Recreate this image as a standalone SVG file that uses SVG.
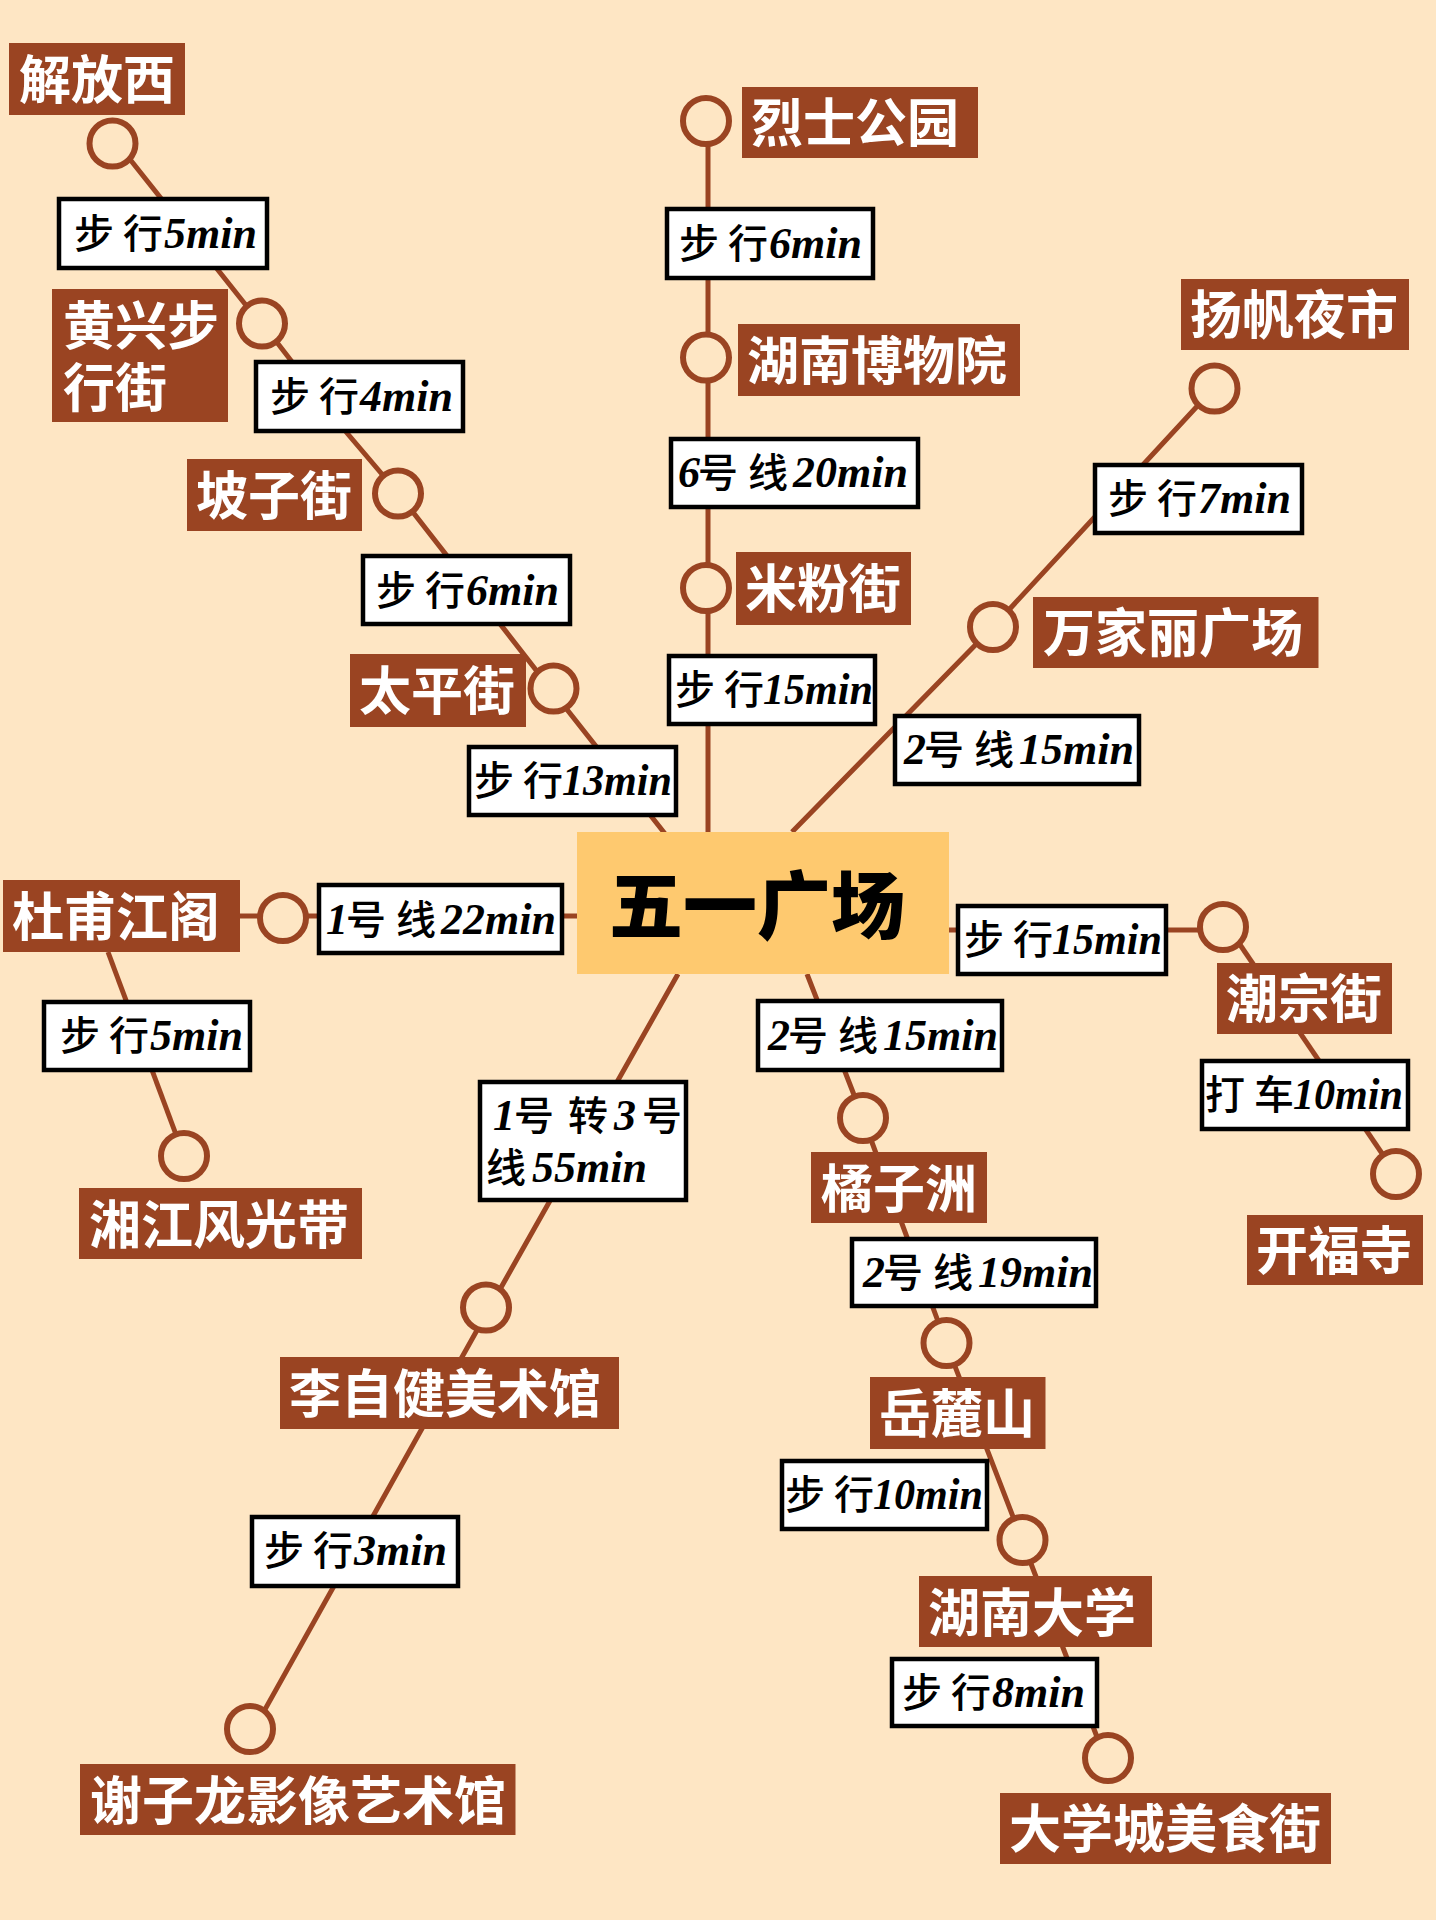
<svg xmlns="http://www.w3.org/2000/svg" width="1436" height="1920" viewBox="0 0 1436 1920">
<style>
.bg{fill:#FEE6C4}
.ln{stroke:#9A4422;stroke-width:5;fill:none}
.st{fill:#FEE6C4;stroke:#9A4422;stroke-width:6}
.lb{fill:#9A4422}
.lt{font-family:"Noto Sans CJK SC","Noto Sans CJK TC",sans-serif;font-weight:700;font-size:52px;fill:#fff}
.bx{fill:#fff;stroke:#000;stroke-width:4.5}
.et{font-family:"Liberation Serif","Noto Sans CJK SC",serif;font-style:italic;font-weight:700;font-size:44px;fill:#000}
.c{font-family:"Noto Sans CJK SC",sans-serif;font-style:normal;font-weight:500;font-size:40px}
.ct{fill:#FEC96F}
.ctt{font-family:"Noto Sans CJK SC",sans-serif;font-weight:900;font-size:74px;fill:#000}
</style>
<rect class="bg" width="1436" height="1920"/>
<g id="connectors">
<polyline class="ln" points="117,143 245,304 262,323 347,433 398,493 550,688 666,835"/>
<polyline class="ln" points="708,121 708,832"/>
<polyline class="ln" points="1214,388 993,627 792,832"/>
<polyline class="ln" points="240,916 577,916"/>
<polyline class="ln" points="108,952 184,1156"/>
<polyline class="ln" points="678,974 490,1307 254,1729"/>
<polyline class="ln" points="807,974 863,1118 946,1343 1022,1540 1105,1758"/>
<polyline class="ln" points="949,930 1223,930"/>
<polyline class="ln" points="1228,927 1396,1174"/>
</g>
<g id="center"><rect class="ct" x="577" y="832" width="372" height="142"/><text class="ctt" x="609" y="933">五一广场</text></g>

<g id="jiefangxi"><circle class="st" cx="112.500" cy="143.500" r="23"/><rect class="lb" x="9" y="43" width="176" height="72"/><text class="lt" x="19" y="99">解放西</text></g>
<g id="huangxing"><circle class="st" cx="262" cy="323.500" r="23"/><rect class="lb" x="52" y="289" width="176" height="133"/><text class="lt"><tspan x="63" y="345">黄兴步</tspan><tspan x="63" y="407">行街</tspan></text></g>
<g id="pozijie"><circle class="st" cx="398" cy="493.500" r="23"/><rect class="lb" x="187" y="459" width="175" height="72"/><text class="lt" x="196" y="515">坡子街</text></g>
<g id="taipingjie"><circle class="st" cx="553.500" cy="688.500" r="23"/><rect class="lb" x="350" y="654" width="176" height="73"/><text class="lt" x="359" y="710">太平街</text></g>
<g id="dufu"><circle class="st" cx="283" cy="918" r="23"/><rect class="lb" x="3" y="880" width="237" height="72"/><text class="lt" x="12" y="936">杜甫江阁</text></g>
<g id="xiangjiang"><circle class="st" cx="184" cy="1156" r="23"/><rect class="lb" x="79" y="1188" width="283" height="71"/><text class="lt" x="89" y="1244">湘江风光带</text></g>
<g id="lizijian"><circle class="st" cx="486" cy="1307.500" r="23"/><rect class="lb" x="280" y="1357" width="339" height="72"/><text class="lt" x="289" y="1413">李自健美术馆</text></g>
<g id="xieziilong"><circle class="st" cx="250" cy="1729" r="23"/><rect class="lb" x="80" y="1764" width="435.500" height="71"/><text class="lt" x="90" y="1820">谢子龙影像艺术馆</text></g>
<g id="lieshi"><circle class="st" cx="706" cy="121" r="23"/><rect class="lb" x="742" y="87" width="236" height="71"/><text class="lt" x="751" y="142">烈士公园</text></g>
<g id="museum"><circle class="st" cx="706" cy="357.500" r="23"/><rect class="lb" x="738" y="324" width="282" height="72"/><text class="lt" x="747" y="380">湖南博物院</text></g>
<g id="mifen"><circle class="st" cx="706" cy="588" r="23"/><rect class="lb" x="736" y="552" width="175" height="73"/><text class="lt" x="745" y="608">米粉街</text></g>
<g id="yangfan"><circle class="st" cx="1214.500" cy="388.500" r="23"/><rect class="lb" x="1181" y="279" width="228" height="71"/><text class="lt" x="1190" y="334">扬帆夜市</text></g>
<g id="wanjiali"><circle class="st" cx="993" cy="627" r="23"/><rect class="lb" x="1033" y="597" width="285.500" height="71"/><text class="lt" x="1043" y="652">万家丽广场</text></g>
<g id="chaozong"><circle class="st" cx="1223" cy="927" r="23"/><rect class="lb" x="1217" y="963" width="175" height="71"/><text class="lt" x="1226" y="1018">潮宗街</text></g>
<g id="kaifu"><circle class="st" cx="1396" cy="1174" r="23"/><rect class="lb" x="1247" y="1215" width="176" height="70"/><text class="lt" x="1256" y="1270">开福寺</text></g>
<g id="juzizhou"><circle class="st" cx="863" cy="1118" r="23"/><rect class="lb" x="811" y="1152" width="176" height="71"/><text class="lt" x="821" y="1208">橘子洲</text></g>
<g id="yuelu"><circle class="st" cx="946.500" cy="1343" r="23"/><rect class="lb" x="870" y="1377" width="175.500" height="72"/><text class="lt" x="879" y="1433">岳麓山</text></g>
<g id="hnu"><circle class="st" cx="1022.500" cy="1540" r="23"/><rect class="lb" x="919" y="1576" width="233" height="71"/><text class="lt" x="928" y="1632">湖南大学</text></g>
<g id="meishi"><circle class="st" cx="1108" cy="1758" r="23"/><rect class="lb" x="1000" y="1793" width="331" height="71"/><text class="lt" x="1009" y="1848">大学城美食街</text></g>

<g id="e1"><rect class="bx" x="59" y="199" width="208" height="69"/><text class="et" x="74" y="248"><tspan class="c">步</tspan><tspan class="c" dx="9">行</tspan><tspan dx="1">5min</tspan></text></g>
<g id="e2"><rect class="bx" x="256" y="362" width="207" height="69"/><text class="et" x="270" y="411"><tspan class="c">步</tspan><tspan class="c" dx="9">行</tspan><tspan dx="1">4min</tspan></text></g>
<g id="e3"><rect class="bx" x="363" y="556" width="207" height="68"/><text class="et" x="376" y="605"><tspan class="c">步</tspan><tspan class="c" dx="9">行</tspan><tspan dx="1">6min</tspan></text></g>
<g id="e4"><rect class="bx" x="469" y="747" width="207" height="68"/><text class="et" x="474" y="795"><tspan class="c">步</tspan><tspan class="c" dx="9">行</tspan><tspan dx="-1" textLength="110" lengthAdjust="spacingAndGlyphs">13min</tspan></text></g>
<g id="e5"><rect class="bx" x="319" y="885" width="243" height="68"/><text class="et" x="326" y="934">1<tspan class="c" dx="-2">号</tspan><tspan class="c" dx="10">线</tspan><tspan dx="5">22min</tspan></text></g>
<g id="e6"><rect class="bx" x="44" y="1002" width="206" height="68"/><text class="et" x="60" y="1050"><tspan class="c">步</tspan><tspan class="c" dx="9">行</tspan><tspan dx="1">5min</tspan></text></g>
<g id="e7"><rect class="bx" x="480" y="1082" width="206" height="118"/><text class="et" x="493" y="1130">1<tspan class="c" dx="-1">号</tspan><tspan class="c" dx="14">转</tspan><tspan dx="6">3</tspan><tspan class="c" dx="6">号</tspan></text><text class="et" x="486" y="1182"><tspan class="c">线</tspan><tspan dx="6">55min</tspan></text></g>
<g id="e8"><rect class="bx" x="252" y="1517" width="206" height="69"/><text class="et" x="264" y="1565"><tspan class="c">步</tspan><tspan class="c" dx="9">行</tspan><tspan dx="1">3min</tspan></text></g>
<g id="e9"><rect class="bx" x="667" y="209" width="206" height="69"/><text class="et" x="679" y="258"><tspan class="c">步</tspan><tspan class="c" dx="9">行</tspan><tspan dx="1">6min</tspan></text></g>
<g id="e10"><rect class="bx" x="671" y="439" width="247" height="68"/><text class="et" x="678" y="487">6<tspan class="c" dx="-2">号</tspan><tspan class="c" dx="10">线</tspan><tspan dx="5">20min</tspan></text></g>
<g id="e11"><rect class="bx" x="669" y="656" width="206" height="68"/><text class="et" x="675" y="704"><tspan class="c">步</tspan><tspan class="c" dx="9">行</tspan><tspan dx="-1" textLength="110" lengthAdjust="spacingAndGlyphs">15min</tspan></text></g>
<g id="e12"><rect class="bx" x="1095" y="465" width="207" height="68"/><text class="et" x="1108" y="513"><tspan class="c">步</tspan><tspan class="c" dx="9">行</tspan><tspan dx="1">7min</tspan></text></g>
<g id="e13"><rect class="bx" x="895" y="716" width="244" height="68"/><text class="et" x="904" y="764">2<tspan class="c" dx="-2">号</tspan><tspan class="c" dx="10">线</tspan><tspan dx="5">15min</tspan></text></g>
<g id="e14"><rect class="bx" x="958" y="906" width="208" height="68"/><text class="et" x="964" y="954"><tspan class="c">步</tspan><tspan class="c" dx="9">行</tspan><tspan dx="-1" textLength="110" lengthAdjust="spacingAndGlyphs">15min</tspan></text></g>
<g id="e15"><rect class="bx" x="1202" y="1061" width="206" height="68"/><text class="et" x="1205" y="1109"><tspan class="c">打</tspan><tspan class="c" dx="9">车</tspan><tspan dx="-1" textLength="110" lengthAdjust="spacingAndGlyphs">10min</tspan></text></g>
<g id="e16"><rect class="bx" x="758" y="1001" width="244" height="69"/><text class="et" x="768" y="1050">2<tspan class="c" dx="-2">号</tspan><tspan class="c" dx="10">线</tspan><tspan dx="5">15min</tspan></text></g>
<g id="e17"><rect class="bx" x="852" y="1239" width="244" height="67"/><text class="et" x="863" y="1287">2<tspan class="c" dx="-2">号</tspan><tspan class="c" dx="10">线</tspan><tspan dx="5">19min</tspan></text></g>
<g id="e18"><rect class="bx" x="782" y="1461" width="205" height="68"/><text class="et" x="785" y="1509"><tspan class="c">步</tspan><tspan class="c" dx="9">行</tspan><tspan dx="-1" textLength="110" lengthAdjust="spacingAndGlyphs">10min</tspan></text></g>
<g id="e19"><rect class="bx" x="892" y="1659" width="205" height="67"/><text class="et" x="902" y="1707"><tspan class="c">步</tspan><tspan class="c" dx="9">行</tspan><tspan dx="1">8min</tspan></text></g>
</svg>
